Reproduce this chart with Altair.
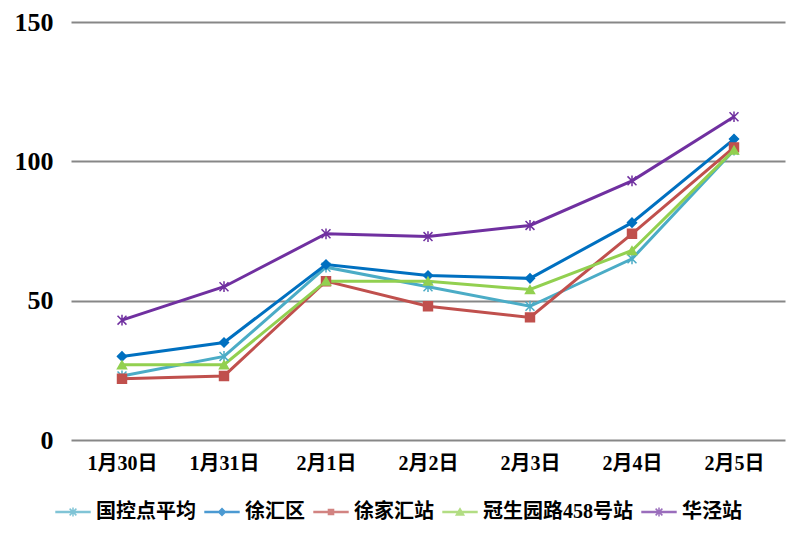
import altair as alt
import pandas as pd

dates = ["1月30日", "1月31日", "2月1日", "2月2日", "2月3日", "2月4日", "2月5日"]
series_names = ["国控点平均", "徐汇区", "徐家汇站", "冠生园路458号站", "华泾站"]
guokong = [23, 30, 62, 55, 48, 65, 104]
xuhui = [30, 35, 63, 59, 58, 78, 108]
xujiahui = [22, 23, 57, 48, 44, 74, 105]
guanshengyuan = [27, 27, 57, 57, 54, 68, 104]
huajing = [43, 55, 74, 73, 77, 93, 116]
y_ticks = [0, 50, 100, 150]

colors = ["#4BACC6", "#0070C0", "#C0504D", "#92D050", "#7030A0"]

ast = "M-1,-1L1,1M-1,1L1,-1M0,-1.2L0,1.2"
point_shapes = [ast, "diamond", "square", "triangle-up", ast]
bar = "M-1,-0.03L1,-0.03L1,0.03L-1,0.03Z"
legend_ast = bar + "M-0.2,-0.2L0.2,0.2M-0.2,0.2L0.2,-0.2M0,-0.26L0,0.26"
legend_shapes = [
    legend_ast,
    bar + "M0,-0.2L0.2,0L0,0.2L-0.2,0Z",
    bar + "M-0.15,-0.15L0.15,-0.15L0.15,0.15L-0.15,0.15Z",
    bar + "M0,-0.2L0.22,0.17L-0.22,0.17Z",
    legend_ast,
]

values = [guokong, xuhui, xujiahui, guanshengyuan, huajing]
rows = []
for i, (name, vals) in enumerate(zip(series_names, values)):
    for d, v in zip(dates, vals):
        rows.append({"date": d, "value": v, "series": name, "k": i})
df = pd.DataFrame(rows)

FONT = "Liberation Serif, Noto Sans CJK SC"

x_enc = alt.X("date:N", sort=dates, scale=alt.Scale(type="point", padding=0.5),
              axis=alt.Axis(title=None, domain=False, ticks=False, grid=False,
                            labelFont=FONT, labelFontSize=20, labelFontWeight="bold",
                            labelColor="#000", labelPadding=13, labelAngle=0))
y_enc = alt.Y("value:Q", scale=alt.Scale(domain=[0, 150], nice=False),
              axis=alt.Axis(title=None, domain=False, ticks=False, values=y_ticks,
                            grid=True, gridColor="#878787", gridWidth=1.8,
                            labelFont=FONT, labelFontSize=26, labelFontWeight="bold",
                            labelColor="#000", labelPadding=18))

cs = alt.Scale(domain=series_names, range=colors)

base = alt.Chart(df)

lines = base.mark_line(strokeWidth=3).encode(
    x=x_enc, y=y_enc,
    color=alt.Color("series:N", scale=cs, legend=None),
    order=alt.Order("k:Q"),
)

points = base.mark_point(filled=True, size=80, strokeWidth=1.5, opacity=1).encode(
    x=x_enc, y=y_enc,
    color=alt.Color("series:N", scale=cs, legend=None),
    stroke=alt.Stroke("series:N", scale=cs, legend=None),
    shape=alt.Shape("series:N", scale=alt.Scale(domain=series_names, range=point_shapes), legend=None),
)

leg = alt.Legend(title=None, orient="none", legendX=-16, legendY=472, direction="horizontal",
                 columns=5, symbolSize=1150, symbolStrokeWidth=1.5, labelFont=FONT,
                 labelFontSize=20, labelFontWeight="bold", labelColor="#000",
                 labelOffset=5, columnPadding=6, padding=0, labelLimit=300)

legend_layer = base.mark_point(filled=True, clip=True, size=10, strokeWidth=1.5).encode(
    x=x_enc, y=alt.value(-200),
    color=alt.Color("series:N", scale=cs, legend=leg),
    stroke=alt.Stroke("series:N", scale=cs, legend=leg),
    shape=alt.Shape("series:N", scale=alt.Scale(domain=series_names, range=legend_shapes), legend=leg),
)

chart = alt.layer(lines, points, legend_layer).resolve_scale(
    color="independent", stroke="independent", shape="independent"
).properties(
    width=714, height=418, autosize="none",
    padding={"left": 63, "top": 14, "right": 8, "bottom": 93},
).configure_view(stroke=None).configure_axis(labelFont=FONT)

chart.save("out.html", embed_options={"renderer": "svg", "actions": False})
